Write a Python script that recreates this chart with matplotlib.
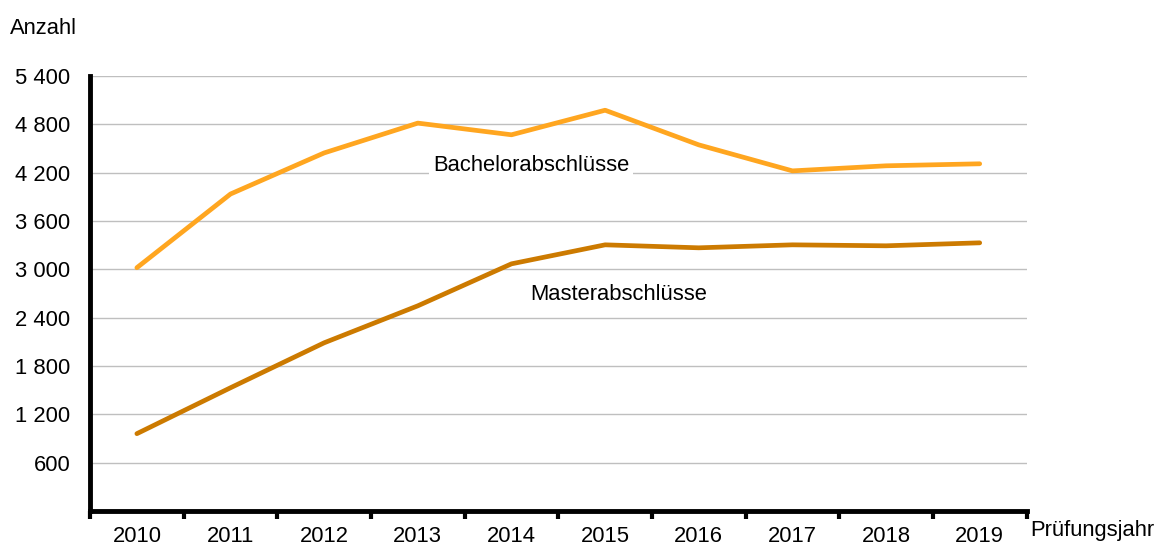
import numpy as np
import matplotlib.pyplot as plt
from matplotlib.ticker import FixedLocator, FuncFormatter

plt.rcParams['font.family'] = ['Liberation Sans', 'DejaVu Sans']

YEARS = ['2010', '2011', '2012', '2013', '2014', '2015', '2016', '2017', '2018', '2019']
BACHELOR = [3020, 3935, 4445, 4815, 4670, 4975, 4545, 4222, 4285, 4310]
MASTER = [960, 1530, 2088, 2547, 3068, 3304, 3267, 3304, 3292, 3329]
Y_TICKS = [600, 1200, 1800, 2400, 3000, 3600, 4200, 4800, 5400]

C_BACH = '#FFA620'
C_MAST = '#CC7A00'
FS = 15.8

fig = plt.figure(figsize=(11.56, 5.47), dpi=100)
ax = fig.add_axes([0.0779, 0.0658, 0.8101, 0.7953])

x = np.arange(len(YEARS))
ax.plot(x, BACHELOR, color=C_BACH, lw=3.4, solid_capstyle='round', zorder=3)
ax.plot(x, MASTER, color=C_MAST, lw=3.4, solid_capstyle='round', zorder=3)

ax.set_xlim(-0.5, len(YEARS) - 0.5)
ax.set_ylim(0, 5400)

ax.set_yticks(Y_TICKS)
ax.yaxis.set_major_formatter(FuncFormatter(lambda v, p: f'{int(v):,}'.replace(',', ' ')))
ax.tick_params(axis='y', length=0, pad=14, labelsize=FS)
ax.grid(True, axis='y', color='#BFBFBF', lw=1.0, zorder=0)

ax.set_xticks(x)
ax.set_xticklabels(YEARS)
ax.xaxis.set_minor_locator(FixedLocator(np.arange(-0.5, len(YEARS), 1.0)))
ax.tick_params(axis='x', which='major', length=0, pad=11, labelsize=FS)
ax.tick_params(axis='x', which='minor', length=6, width=3, direction='out')

for s in ('top', 'right'):
    ax.spines[s].set_visible(False)
ax.spines['left'].set_linewidth(3.5)
ax.spines['bottom'].set_linewidth(3.5)

ax.text(4.21, 4290, 'Bachelorabschlüsse', ha='center', va='center', fontsize=FS,
        bbox=dict(facecolor='white', edgecolor='none', pad=3), zorder=2)
ax.text(5.14, 2690, 'Masterabschlüsse', ha='center', va='center', fontsize=FS, zorder=2)

fig.text(0.009, 0.948, 'Anzahl', ha='left', va='center', fontsize=FS)
fig.text(0.891, 0.031, 'Prüfungsjahr', ha='left', va='center', fontsize=FS)

fig.savefig('out.png', dpi=100)
